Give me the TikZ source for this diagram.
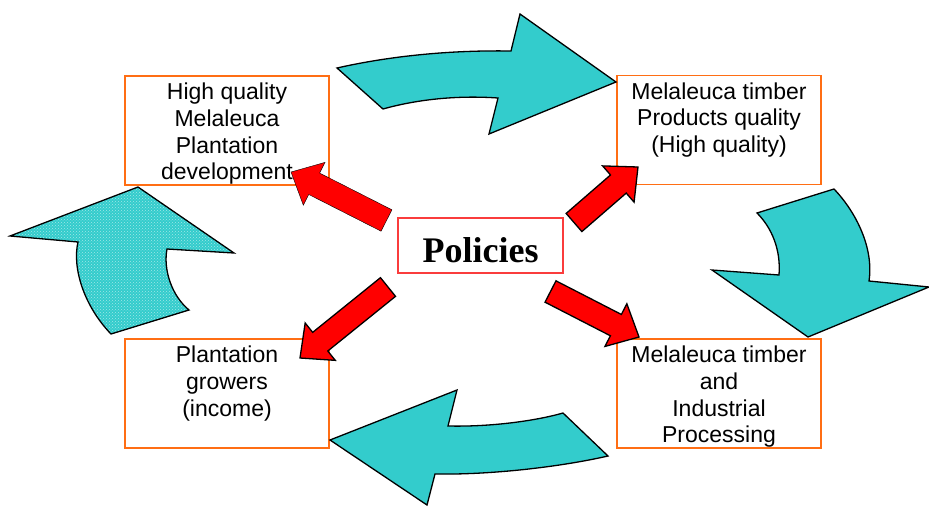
\documentclass[tikz,border=0pt]{standalone}
\usepackage{fontspec}
\setmainfont{Liberation Sans}
\newfontfamily\policyfont{Liberation Serif}
\usepackage{tikz}
\usetikzlibrary{calc,patterns}

\definecolor{flowteal}{RGB}{51,204,204}
\definecolor{boxorange}{RGB}{255,110,20}
\definecolor{polred}{RGB}{250,60,60}

% text of an outcome box, set from the top
\newcommand{\boxtext}[1]{\parbox[c][99pt][t]{194pt}{\centering\strut #1}}
% red block arrow from #2 (tail) to #3 (tip)
\newcommand{\blockarrow}[3][]{%
  \coordinate (neck) at ($(#3)!26pt!(#2)$);
  \draw[#1] ($(#2)!12pt!90:(#3)$) -- ($(neck)!12pt!-90:(#2)$) -- ($(neck)!24pt!-90:(#2)$)
    -- (#3) -- ($(neck)!24pt!90:(#2)$) -- ($(neck)!12pt!90:(#2)$) -- ($(#2)!12pt!-90:(#3)$) -- cycle;}

\begin{document}
\begin{tikzpicture}[
    x=1pt, y=-1pt,
    box/.style={rectangle,draw=boxorange,line width=1.6pt,fill=white,inner sep=5pt,
                font=\fontsize{23}{26.7}\selectfont},
    policy/.style={rectangle,draw=polred,line width=1.2pt,minimum width=165pt,minimum height=55pt,
                text height=33pt,text depth=0pt,
                font=\policyfont\bfseries\fontsize{36}{40}\selectfont},
    flow/.style={draw=black,line width=1.3pt,fill=flowteal,line join=miter},
    push/.style={draw=black,line width=1.3pt,fill=red},
    push plain/.style={fill=red},
]
\useasboundingbox (0,0) rectangle (929,506);

% the four outcome boxes and the policies node
\node[box] (plant)    at (227,130.5) {\boxtext{High quality\\Melaleuca\\Plantation\\development}};
\node[box] (timber)   at (719,130)   {\boxtext{Melaleuca timber\\Products quality\\(High quality)}};
\node[box] (growers)  at (227,393.5) {\boxtext{Plantation\\growers\\(income)}};
\node[box] (industry) at (719,393.5) {\boxtext{Melaleuca timber\\and\\Industrial\\Processing}};
\node[policy] (pol) at (480.5,245.5) {Policies};

% cycle arrows
\draw[flow] (337,68) .. controls (390,56) and (450,50) .. (511,51) -- (520,14) -- (616,82)
    -- (489,134) -- (498,98) .. controls (455,95) and (415,100) .. (383,109) -- cycle;
\draw[flow] (757,213) -- (834,189) .. controls (856,212) and (874,248) .. (869,281) -- (929,287)
    -- (808,337) -- (712,270) -- (779,275) .. controls (781,250) and (772,228) .. cycle;
\draw[flow] (563,413) -- (608,456) .. controls (560,467) and (490,475) .. (435,474) -- (427,505)
    -- (330,440) -- (457,390) -- (448,426) .. controls (490,427) and (535,421) .. cycle;
\draw[flow,preaction={fill=flowteal},pattern=crosshatch dots,pattern color=white!55!flowteal]
    (138,187) -- (234,253) -- (167,249) .. controls (163,270) and (172,296) .. (189,310)
    -- (111,334) .. controls (84,306) and (72,268) .. (78,242) -- (10,236) -- cycle;

% policies push on each outcome
\coordinate (pol-tl) at (386.5,220.5);  \coordinate (plant-in)    at (291,172);
\coordinate (pol-tr) at (574,222.5);    \coordinate (timber-in)   at (638,167);
\coordinate (pol-bl) at (388,287);      \coordinate (growers-in)  at (300,358);
\coordinate (pol-br) at (550.5,291.5);  \coordinate (industry-in) at (639,337);
\blockarrow[push plain]{pol-tl}{plant-in}
\blockarrow[push]{pol-tr}{timber-in}
\blockarrow[push]{pol-bl}{growers-in}
\blockarrow[push]{pol-br}{industry-in}
\end{tikzpicture}
\end{document}
